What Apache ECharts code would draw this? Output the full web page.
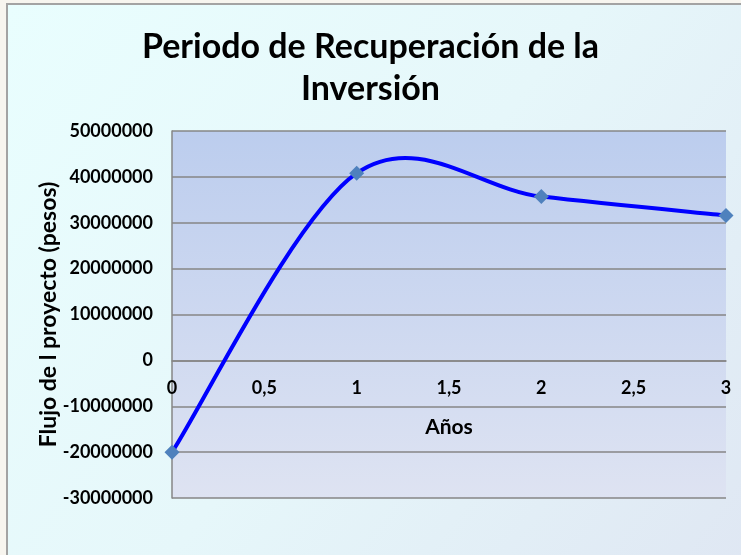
<!DOCTYPE html>
<html>
<head>
<meta charset="utf-8">
<script src="https://cdn.jsdelivr.net/npm/echarts@6/dist/echarts.min.js"></script>
<style>
  html, body { margin: 0; padding: 0; background: #f7f5ef; }
  #chart { width: 741px; height: 555px; }
</style>
</head>
<body>
<div id="chart"></div>
<script>
// Años del proyecto y flujo acumulado (pesos)
const years = [0, 1, 2, 3];
const flujo = [-20000000, 40800000, 35700000, 31600000];

const titleLines = ['Periodo de Recuperación de la', 'Inversión'];
const xAxisName = 'Años';
const yAxisName = 'Flujo de l proyecto (pesos)';

const FONT = 'Lato, "Open Sans", sans-serif';

// Área de trazado y rango del eje Y
const W = 741, H = 555;
const GRID = { left: 172, right: 15, top: 131, bottom: 57 };
const Y_MIN = -30000000, Y_MAX = 50000000, Y_STEP = 10000000;

// El eje X se dibuja sobre la línea del cero: desplazamiento desde el borde inferior
const plotHeight = H - GRID.top - GRID.bottom;
const xAxisOffset = -plotHeight * (0 - Y_MIN) / (Y_MAX - Y_MIN);

// Curva suavizada tipo Catmull-Rom: cada tramo i -> i+1 es una Bézier cúbica
// cuyos puntos de control se derivan de los vecinos (en coordenadas de pantalla).
function renderSegment(params, api) {
  const i = params.dataIndex;
  const n = years.length;
  const clampIdx = k => Math.max(0, Math.min(n - 1, k));
  const pt = k => api.coord([years[clampIdx(k)], flujo[clampIdx(k)]]);
  const p0 = pt(i - 1), p1 = pt(i), p2 = pt(i + 1), p3 = pt(i + 2);
  const cp1 = [p1[0] + (p2[0] - p0[0]) / 6, p1[1] + (p2[1] - p0[1]) / 6];
  const cp2 = [p2[0] - (p3[0] - p1[0]) / 6, p2[1] - (p3[1] - p1[1]) / 6];
  return {
    type: 'bezierCurve',
    shape: {
      x1: p1[0], y1: p1[1],
      cpx1: cp1[0], cpy1: cp1[1],
      cpx2: cp2[0], cpy2: cp2[1],
      x2: p2[0], y2: p2[1]
    },
    style: { stroke: '#0000ff', lineWidth: 4, fill: null, lineCap: 'round' }
  };
}

const chart = echarts.init(document.getElementById('chart'), null, { renderer: 'canvas' });

chart.setOption({
  animation: false,
  backgroundColor: '#f7f5ef',
  graphic: [
    {
      type: 'rect',
      z: -10,
      silent: true,
      shape: { x: 7, y: 4, width: 740, height: 560 },
      style: {
        fill: new echarts.graphic.LinearGradient(0, 0, 1, 1, [
          { offset: 0, color: '#e9fefe' },
          { offset: 0.5, color: '#e6f7fa' },
          { offset: 1, color: '#dfe7f3' }
        ]),
        stroke: '#a3a3a3',
        lineWidth: 2
      }
    }
  ],
  title: {
    text: titleLines.join('\n'),
    left: 'center',
    top: 21,
    textStyle: {
      fontFamily: FONT,
      fontWeight: 'bold',
      fontSize: 34,
      lineHeight: 42,
      color: '#000'
    }
  },
  grid: {
    left: GRID.left,
    right: GRID.right,
    top: GRID.top,
    bottom: GRID.bottom,
    outerBoundsMode: 'none',
    show: true,
    borderWidth: 0,
    backgroundColor: new echarts.graphic.LinearGradient(0, 0, 0, 1, [
      { offset: 0, color: '#bccdee' },
      { offset: 1, color: '#dee3f2' }
    ])
  },
  xAxis: {
    type: 'value',
    min: 0,
    max: 3,
    interval: 0.5,
    position: 'bottom',
    offset: xAxisOffset,
    name: xAxisName,
    nameLocation: 'middle',
    nameGap: 56,
    nameMoveOverlap: false,
    nameTextStyle: { fontFamily: FONT, fontWeight: 'bold', fontSize: 21, color: '#000' },
    axisLine: { onZero: false, lineStyle: { color: '#868686', width: 1.5 } },
    axisTick: { show: false },
    axisLabel: {
      fontFamily: FONT,
      fontWeight: 'bold',
      fontSize: 18,
      color: '#000',
      margin: 19,
      formatter: v => String(v).replace('.', ',')
    },
    splitLine: { show: false }
  },
  yAxis: {
    type: 'value',
    min: Y_MIN,
    max: Y_MAX,
    interval: Y_STEP,
    name: yAxisName,
    nameLocation: 'middle',
    nameGap: 112,
    nameMoveOverlap: false,
    nameTextStyle: { fontFamily: FONT, fontWeight: 'bold', fontSize: 23, color: '#000' },
    axisLine: { show: true, onZero: false, lineStyle: { color: '#868686', width: 1.5 } },
    axisTick: { show: false },
    axisLabel: {
      fontFamily: FONT,
      fontWeight: 'bold',
      fontSize: 18,
      color: '#000',
      margin: 19,
      formatter: v => String(v)
    },
    splitLine: { show: true, lineStyle: { color: '#868686', width: 1.5 } }
  },
  series: [
    {
      type: 'custom',
      name: 'curva',
      renderItem: renderSegment,
      data: years.slice(0, -1).map((y, i) => [y, flujo[i]]),
      encode: { x: 0, y: 1 },
      clip: false,
      z: 2
    },
    {
      type: 'scatter',
      name: 'Flujo',
      data: years.map((y, i) => [y, flujo[i]]),
      symbol: 'diamond',
      symbolSize: 15,
      itemStyle: { color: '#4f81bd', opacity: 1 },
      z: 3
    }
  ]
});
</script>
</body>
</html>
